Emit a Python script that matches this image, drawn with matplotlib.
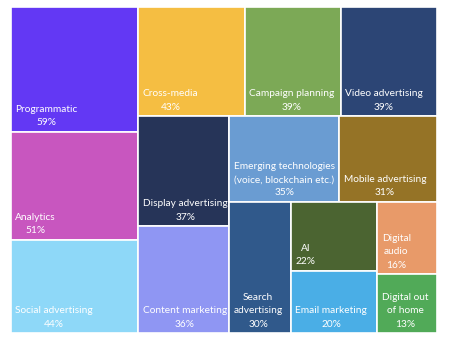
import matplotlib
matplotlib.use("Agg")
import matplotlib.pyplot as plt
from matplotlib.patches import Rectangle

# Share of respondents per marketing area (%)
labels = [
    "Programmatic", "Analytics", "Social advertising",
    "Cross-media", "Campaign planning", "Video advertising",
    "Display advertising", "Content marketing",
    "Emerging technologies\n(voice, blockchain etc.)", "Mobile advertising",
    "Search\nadvertising",
    "AI", "Email marketing",
    "Digital\naudio", "Digital out\nof home",
]
values = [59, 51, 44, 43, 39, 39, 37, 36, 35, 31, 30, 22, 20, 16, 13]
colors = [
    "#6338F4", "#C856BF", "#8ED8F8",
    "#F5BE42", "#7CA956", "#2C4575",
    "#263458", "#8F96F3",
    "#6A9CD2", "#957326",
    "#30598B",
    "#4B6431", "#4AAEE6",
    "#E89A69", "#51AA58",
]

# Slice-and-dice plan: how many items go in each strip and its direction
strip_sizes = [3, 3, 2, 2, 1, 2, 2]
strip_dirs = ["col", "row", "col", "row", "col", "col", "col"]


def layout(vals, x, y, w, h):
    rects = []
    i = 0
    remaining = float(sum(vals))
    for n, d in zip(strip_sizes, strip_dirs):
        group = vals[i:i + n]
        s = float(sum(group))
        if d == "col":
            cw = w * s / remaining
            cy = y
            for v in group:
                ch = h * v / s
                rects.append((x, cy, cw, ch))
                cy += ch
            x += cw
            w -= cw
        else:
            rh = h * s / remaining
            cx = x
            for v in group:
                rw = w * v / s
                rects.append((cx, y, rw, rh))
                cx += rw
            y += rh
            h -= rh
        remaining -= s
        i += n
    return rects


W, H = 450, 343
fig = plt.figure(figsize=(W / 100, H / 100), dpi=100)
ax = fig.add_axes([11 / W, (H - 333) / H, 426 / W, 326 / H])
ax.set_xlim(0, 1)
ax.set_ylim(1, 0)
ax.axis("off")

for (rx, ry, rw, rh), lab, val, col in zip(layout(values, 0, 0, 1, 1), labels, values, colors):
    ax.add_patch(Rectangle((rx, ry), rw, rh, facecolor=col, edgecolor="white",
                           linewidth=1.2))
    ax.annotate(f"{lab}\n{val}%", xy=(rx, ry + rh), xytext=(3.2, 3.2),
                textcoords="offset points", ha="left", va="bottom",
                multialignment="center", color="white", fontsize=7.3,
                family="Lato", linespacing=1.62)

fig.savefig("out.png", dpi=100, facecolor="white")
